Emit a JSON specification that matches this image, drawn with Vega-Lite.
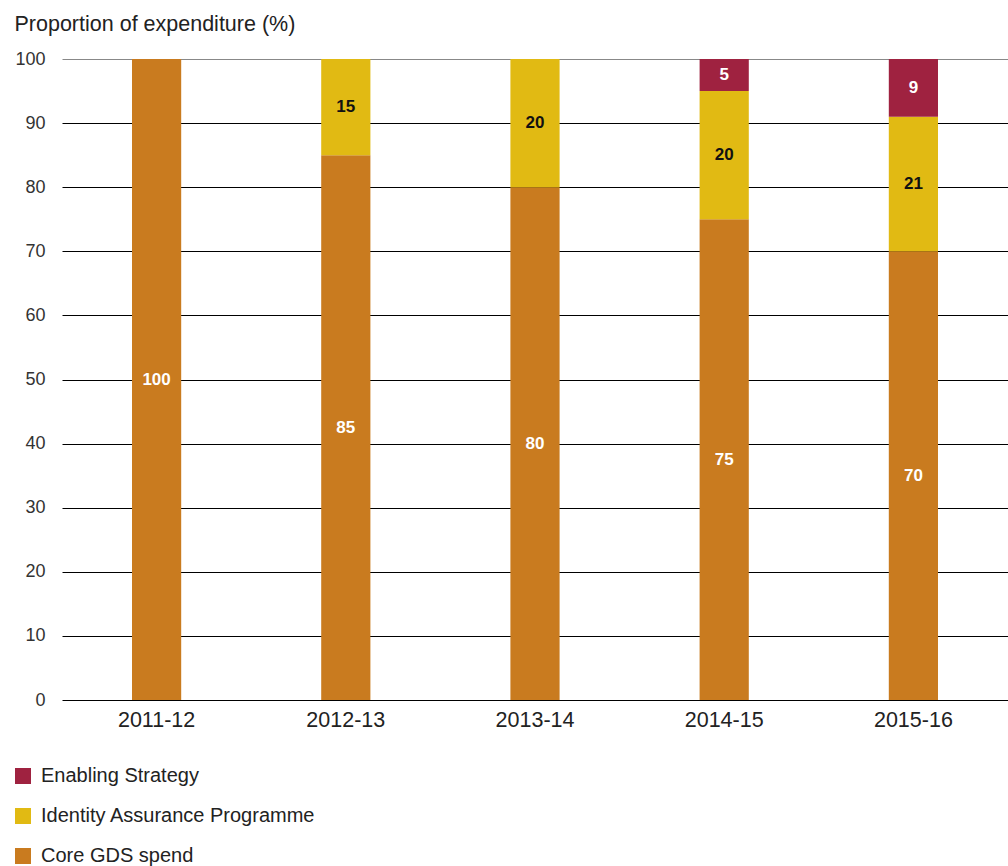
{
  "$schema": "https://vega.github.io/schema/vega-lite/v6.json",
  "width": 946,
  "height": 641,
  "autosize": {"type": "none"},
  "padding": {"left": 62, "top": 59, "right": 0, "bottom": 166},
  "background": "white",
  "config": {
    "view": {"stroke": null},
    "font": "Liberation Sans"
  },
  "data": {
    "values": [
      {"year": "2011-12", "series": "Core GDS spend", "rank": 1, "value": 100},
      {"year": "2012-13", "series": "Core GDS spend", "rank": 1, "value": 85},
      {"year": "2012-13", "series": "Identity Assurance Programme", "rank": 2, "value": 15},
      {"year": "2013-14", "series": "Core GDS spend", "rank": 1, "value": 80},
      {"year": "2013-14", "series": "Identity Assurance Programme", "rank": 2, "value": 20},
      {"year": "2014-15", "series": "Core GDS spend", "rank": 1, "value": 75},
      {"year": "2014-15", "series": "Identity Assurance Programme", "rank": 2, "value": 20},
      {"year": "2014-15", "series": "Enabling Strategy", "rank": 3, "value": 5},
      {"year": "2015-16", "series": "Core GDS spend", "rank": 1, "value": 70},
      {"year": "2015-16", "series": "Identity Assurance Programme", "rank": 2, "value": 21},
      {"year": "2015-16", "series": "Enabling Strategy", "rank": 3, "value": 9}
    ]
  },
  "transform": [
    {"stack": "value", "groupby": ["year"], "sort": [{"field": "rank", "order": "ascending"}], "as": ["v0", "v1"]},
    {"calculate": "(datum.v0 + datum.v1) / 2", "as": "vmid"}
  ],
  "encoding": {
    "x": {
      "field": "year",
      "type": "nominal",
      "scale": {"paddingInner": 0.74, "paddingOuter": 0.37},
      "axis": {
        "title": null,
        "labelAngle": 0,
        "labelFontSize": 21.5,
        "labelColor": "#222",
        "labelPadding": 9,
        "ticks": false,
        "domain": false
      }
    }
  },
  "layer": [
    {
      "mark": {"type": "bar"},
      "encoding": {
        "y": {
          "field": "v1",
          "type": "quantitative",
          "scale": {"domain": [0, 100], "nice": false},
          "axis": {
            "title": "Proportion of expenditure (%)",
            "titleAngle": 0,
            "titleAlign": "left",
            "titleBaseline": "alphabetic",
            "titleX": -48,
            "titleY": -29,
            "titleFontSize": 21.5,
            "titleFontWeight": "normal",
            "titleColor": "#222",
            "values": [0, 10, 20, 30, 40, 50, 60, 70, 80, 90, 100],
            "labelFontSize": 18,
            "labelColor": "#333",
            "labelPadding": 17,
            "ticks": false,
            "domain": false,
            "grid": true,
            "gridColor": {"condition": {"test": "datum.value === 100", "value": "#888888"}, "value": "#000000"},
            "gridOpacity": 1,
            "gridWidth": 1
          }
        },
        "y2": {"field": "v0"},
        "color": {
          "field": "series",
          "type": "nominal",
          "scale": {
            "domain": ["Enabling Strategy", "Identity Assurance Programme", "Core GDS spend"],
            "range": ["#9F2240", "#E1BA13", "#C97B1F"]
          },
          "legend": {
            "title": null,
            "orient": "none",
            "legendX": -49,
            "legendY": 707,
            "direction": "vertical",
            "symbolType": "square",
            "symbolSize": 256,
            "symbolStrokeWidth": 0,
            "symbolOpacity": 1,
            "labelFontSize": 20,
            "labelColor": "#222",
            "labelOffset": 8,
            "labelLimit": 500,
            "rowPadding": 20
          }
        }
      }
    },
    {
      "mark": {"type": "text", "fontSize": 17, "fontWeight": "bold", "baseline": "middle"},
      "encoding": {
        "y": {"field": "vmid", "type": "quantitative"},
        "text": {"field": "value", "type": "quantitative"},
        "color": {
          "condition": {"test": "datum.series === 'Identity Assurance Programme'", "value": "#111111"},
          "value": "#ffffff"
        }
      }
    }
  ]
}
